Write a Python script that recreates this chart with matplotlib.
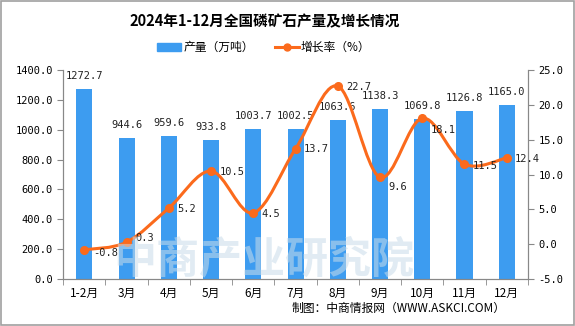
import numpy as np
import matplotlib
matplotlib.use('Agg')
import matplotlib.pyplot as plt
from matplotlib.path import Path
from matplotlib.patches import PathPatch, Rectangle
from matplotlib.lines import Line2D

plt.rcParams['font.family'] = ['Noto Sans CJK SC', 'DejaVu Sans']

months = ['1-2月', '3月', '4月', '5月', '6月', '7月', '8月', '9月', '10月', '11月', '12月']
output = [1272.7, 944.6, 959.6, 933.8, 1003.7, 1002.5, 1063.6, 1138.3, 1069.8, 1126.8, 1165.0]
growth = [-0.8, 0.3, 5.2, 10.5, 4.5, 13.7, 22.7, 9.6, 18.1, 11.5, 12.4]

bar_color = '#3d9cf0'
line_color = '#fb6a1c'
num_font = 'DejaVu Sans Mono'

fig = plt.figure(figsize=(5.75, 3.26), dpi=100)
fig.patches.append(Rectangle((0.001, 0.002), 0.997, 0.995, transform=fig.transFigure,
                             fill=False, edgecolor='#a0a0a0', linewidth=1.2))

ax = fig.add_axes([0.11, 0.144, 0.808, 0.641])
ax2 = ax.twinx()

x = np.arange(len(months))
ax.bar(x, output, width=0.38, color=bar_color, zorder=2)
for xi, v in zip(x, output):
    ax.text(xi, v + 87, f'{v:.1f}', ha='center', va='center', fontsize=7.5,
            family=num_font, color='#222222')

# smooth curve through growth points (Catmull-Rom -> cubic Bezier)
g = np.array(growth)
verts = [(x[0], g[0])]
codes = [Path.MOVETO]
n = len(x)
for i in range(n - 1):
    p0 = (x[max(i - 1, 0)], g[max(i - 1, 0)])
    p1 = (x[i], g[i])
    p2 = (x[i + 1], g[i + 1])
    p3 = (x[min(i + 2, n - 1)], g[min(i + 2, n - 1)])
    c1 = (p1[0] + (p2[0] - p0[0]) / 6, p1[1] + (p2[1] - p0[1]) / 6)
    c2 = (p2[0] - (p3[0] - p1[0]) / 6, p2[1] - (p3[1] - p1[1]) / 6)
    verts += [c1, c2, p2]
    codes += [Path.CURVE4] * 3
ax2.add_patch(PathPatch(Path(verts, codes), facecolor='none', edgecolor=line_color,
                        linewidth=2.2, zorder=3))
ax2.plot(x, growth, 'o', color=line_color, markersize=5.5, zorder=4)

offsets = {0: -0.5, 1: 0.6, 7: -1.4, 8: -1.7, 9: -0.3}
for xi, v in zip(x, growth):
    dy = offsets.get(xi, -0.1)
    ax2.text(xi + 0.2, v + dy, f'{v:.1f}', ha='left', va='center', fontsize=7.5,
             family=num_font, color='#222222')

ax.set_xlim(-0.5, len(months) - 0.5)
ax.set_ylim(0, 1400)
ax.set_yticks(np.arange(0, 1401, 200))
ax.set_yticklabels([f'{t:.1f}' for t in np.arange(0, 1401, 200)], family=num_font)
ax2.set_ylim(-5, 25)
ax2.set_yticks(np.arange(-5, 26, 5))
ax2.set_yticklabels([f'{t:.1f}' for t in np.arange(-5, 26, 5)], family=num_font)

ax.set_xticks(x)
ax.set_xticklabels(months, fontsize=8.5)
ax.set_xticks(np.arange(-0.5, len(months), 1), minor=True)
ax.tick_params(axis='x', which='major', length=0, pad=6)
ax.tick_params(axis='x', which='minor', length=4, color='#888888')
ax.tick_params(axis='y', length=4, color='#888888', labelsize=7.5)
ax2.tick_params(axis='y', length=4, color='#888888', labelsize=7.5)

for a in (ax, ax2):
    a.spines['top'].set_visible(False)
    for s in ('left', 'right', 'bottom'):
        a.spines[s].set_color('#888888')

# watermark
fig.text(0.458, 0.205, '中商产业研究院', fontsize=31, color='#c9dcea', alpha=0.55,
         ha='center', va='center', fontweight='bold', zorder=5)

fig.text(0.46, 0.935, '2024年1-12月全国磷矿石产量及增长情况', ha='center', va='center',
         fontsize=10.5, fontweight='bold')
handles = [Rectangle((0, 0), 1, 1, color=bar_color),
           Line2D([0], [0], color=line_color, lw=2.2, marker='o', markersize=5)]
fig.legend(handles, ['产量（万吨）', '增长率（%）'], loc='center', bbox_to_anchor=(0.459, 0.855),
           ncol=2, frameon=False, fontsize=8.5, handlelength=2.0, handletextpad=0.2,
           columnspacing=1.8)
fig.text(0.88, 0.055, '制图：中商情报网（WWW.ASKCI.COM）', ha='right', va='center', fontsize=8.5)

fig.savefig('out.png', dpi=100)
